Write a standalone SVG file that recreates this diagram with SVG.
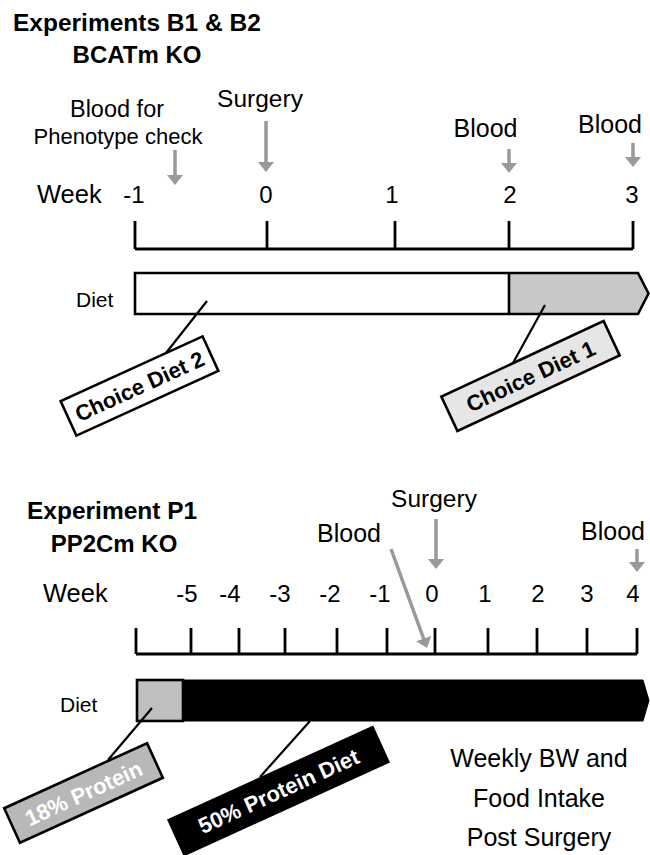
<svg xmlns="http://www.w3.org/2000/svg" width="650" height="855" viewBox="0 0 650 855">
<defs>
<style>
text{font-family:"Liberation Sans",Arial,sans-serif;fill:#000}
.ttl{font-weight:bold;font-size:24.5px}
.lbl{font-size:23.5px}
.num{font-size:24px;text-anchor:middle}
.mid{text-anchor:middle}
.diet{font-size:21px}
.box{font-weight:bold;font-size:22px;text-anchor:middle}
.ax{stroke:#000;stroke-width:2.8;fill:none}
.ga{stroke:#999;stroke-width:3.5;fill:none;marker-end:url(#ah)}
.ld{stroke:#000;stroke-width:2.2;fill:none}
.bar{stroke:#000;stroke-width:2.6;stroke-linejoin:miter}
.bx{stroke:#000;stroke-width:2.6}
</style>
<marker id="ah" viewBox="0 0 10 16" refX="2" refY="8" markerWidth="10" markerHeight="16" markerUnits="userSpaceOnUse" orient="auto">
<path d="M0,0 L10,8 L0,16 z" fill="#999"/>
</marker>
</defs>
<rect width="650" height="855" fill="#fff"/>

<!-- ===== Section 1 ===== -->
<g id="title1">
<text class="ttl" x="13" y="31">Experiments B1 &amp; B2</text>
<text class="ttl mid" x="137" y="63" style="font-size:24px">BCATm KO</text>
</g>
<g id="events1">
<text class="lbl mid" x="117" y="117">Blood for</text>
<text class="lbl mid" x="118" y="144" style="font-size:22px">Phenotype check</text>
<text class="lbl mid" x="260" y="107" style="font-size:24.5px">Surgery</text>
<text class="lbl mid" x="485.5" y="137" style="font-size:25px">Blood</text>
<text class="lbl mid" x="610" y="133" style="font-size:25px">Blood</text>
</g>
<g id="axis1">
<text class="lbl" x="37" y="203" style="font-size:25.5px">Week</text>
<text class="num" x="134" y="203">-1</text>
<text class="num" x="266" y="203">0</text>
<text class="num" x="392" y="203">1</text>
<text class="num" x="510" y="203">2</text>
<text class="num" x="632" y="203">3</text>
<path class="ax" d="M135,249 H633 M135,221 V249 M267,221 V249 M395,221 V249 M509,221 V249 M633,221 V249"/>
</g>
<g id="diet1">
<text class="diet" x="76" y="307">Diet</text>
<path d="M135,273 H638 L648.5,293.5 L638,314 H135 Z" fill="#fff"/>
<path d="M509,273 H638 L648.5,293.5 L638,314 H509 Z" fill="#c8c8c8"/>
<path class="bar" d="M135,273 H638 L648.5,293.5 L638,314 H135 Z M509,273 V314" fill="none"/>
</g>
<g id="choice2" transform="translate(139.5,386) rotate(-24.5)">
<rect class="bx" x="-78" y="-19" width="156" height="38" fill="#fff"/>
<text class="box" x="0" y="8">Choice Diet 2</text>
</g>
<g id="choice1" transform="translate(530.5,376) rotate(-25)">
<rect class="bx" x="-89.5" y="-19" width="179" height="38" fill="#e6e6e6"/>
<text class="box" x="0" y="8">Choice Diet 1</text>
</g>

<!-- ===== Section 2 ===== -->
<g id="title2">
<text class="ttl" x="27" y="519">Experiment P1</text>
<text class="ttl mid" x="114" y="552" style="font-size:24px">PP2Cm KO</text>
</g>
<g id="events2">
<text class="lbl mid" x="434" y="507" style="font-size:24.5px">Surgery</text>
<text class="lbl mid" x="349" y="542" style="font-size:25px">Blood</text>
<text class="lbl mid" x="613" y="540" style="font-size:25px">Blood</text>
</g>
<g id="axis2">
<text class="lbl" x="43" y="602" style="font-size:25.5px">Week</text>
<text class="num" x="187" y="602">-5</text>
<text class="num" x="230" y="602">-4</text>
<text class="num" x="280" y="602">-3</text>
<text class="num" x="330" y="602">-2</text>
<text class="num" x="380" y="602">-1</text>
<text class="num" x="432" y="602">0</text>
<text class="num" x="485" y="602">1</text>
<text class="num" x="538" y="602">2</text>
<text class="num" x="587" y="602">3</text>
<text class="num" x="633" y="602">4</text>
<path class="ax" d="M136,654 H637 M136,628 V654 M191,628 V654 M239,628 V654 M285,628 V654 M337,628 V654 M387,628 V654 M435,628 V654 M488,628 V654 M537,628 V654 M587,628 V654 M637,628 V654"/>
</g>
<g id="diet2">
<text class="diet" x="60" y="712">Diet</text>
<path d="M183,680 H643 L649,700.5 L643,721 H183 Z" fill="#000" stroke="#000" stroke-width="1"/>
<rect class="bar" x="137" y="680" width="46" height="41" fill="#bfbfbf"/>
</g>
<g id="p18" transform="translate(83.5,793) rotate(-24.5)">
<rect class="bx" x="-78.5" y="-19" width="157" height="38" fill="#b8b8b8"/>
<text class="box" x="0" y="8" style="fill:#fff">18% Protein</text>
</g>
<g id="p50" transform="translate(278.5,791) rotate(-24.5)">
<rect class="bx" x="-112" y="-19" width="224" height="38" fill="#000"/>
<text class="box" x="0" y="8" style="fill:#fff">50% Protein Diet</text>
</g>
<g id="note">
<text class="lbl mid" x="539" y="767" style="font-size:25px">Weekly BW and</text>
<text class="lbl mid" x="539" y="807" style="font-size:25px">Food Intake</text>
<text class="lbl mid" x="539" y="846" style="font-size:25px">Post Surgery</text>
</g>

<!-- ===== Connectors ===== -->
<g id="connectors">
<line class="ga" x1="175" y1="150" x2="175" y2="177"/>
<line class="ga" x1="266" y1="121" x2="266" y2="164"/>
<line class="ga" x1="509" y1="149" x2="509" y2="165"/>
<line class="ga" x1="633" y1="143" x2="633" y2="159"/>
<line class="ga" x1="436" y1="519" x2="436" y2="561"/>
<line class="ga" x1="637" y1="549" x2="637" y2="564"/>
<line class="ga" x1="391" y1="549" x2="424.3" y2="640.5"/>
<line class="ld" x1="207" y1="301" x2="166" y2="353"/>
<line class="ld" x1="545" y1="305" x2="513" y2="363"/>
<line class="ld" x1="152" y1="708" x2="108" y2="760"/>
<line class="ld" x1="310" y1="721" x2="260" y2="777"/>
</g>
</svg>
